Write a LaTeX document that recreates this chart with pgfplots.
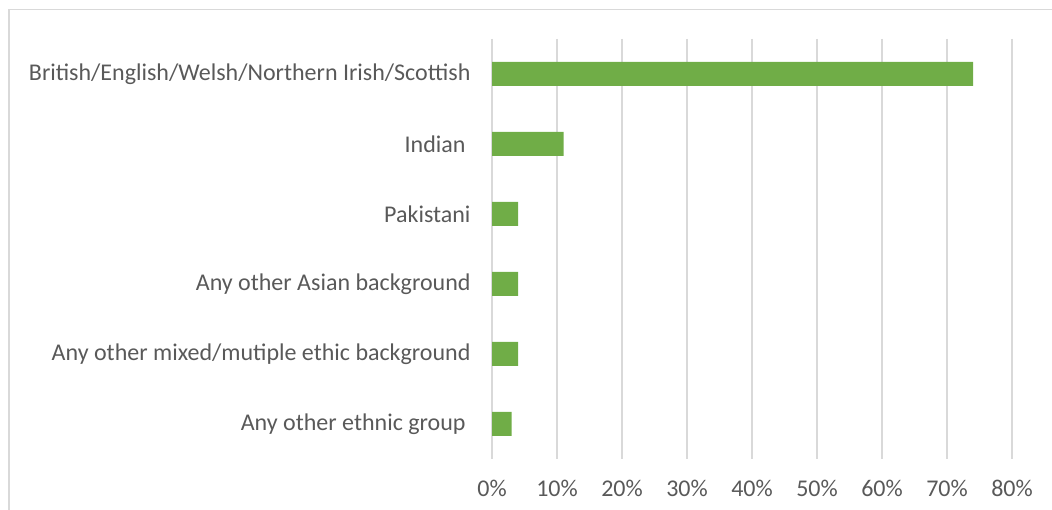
\documentclass[border=0pt]{standalone}
\usepackage{pgfplots}
\pgfplotsset{compat=1.18}
\usepackage{fontspec}
\setmainfont{Carlito}
\definecolor{bargreen}{HTML}{70AD47}
\definecolor{gridgray}{HTML}{D9D9D9}
\definecolor{txtgray}{HTML}{595959}
\begin{document}
\begin{tikzpicture}[x=1bp,y=1bp]
\useasboundingbox (0,0) rectangle (1052,510);
\draw[gridgray, line width=1.5bp] (9,0) -- (9,500.5) -- (1052,500.5);
\begin{axis}[
  at={(492bp,51bp)}, anchor=south west,
  scale only axis,
  width=520bp, height=420bp,
  xbar, bar width=24bp, bar shift=0pt,
  xmin=0, xmax=80,
  ymin=-0.5, ymax=5.5,
  y dir=reverse,
  xtick={0,10,...,80},
  xticklabel={\pgfmathprintnumber{\tick}\%},
  ytick={0,1,2,3,4,5},
  yticklabels={British/English/Welsh/Northern Irish/Scottish, Indian\kern5bp, Pakistani, Any other Asian background, Any other mixed/mutiple ethic background, Any other ethnic group\kern5bp},
  xmajorgrids, major grid style={gridgray, line width=1.3bp},
  axis line style={draw=none},
  major tick length=0pt,
  tick label style={font=\fontsize{24bp}{28bp}\selectfont, text=txtgray},
  /pgf/number format/assume math mode=true,
  yticklabel style={xshift=-18bp},
  xticklabel style={yshift=-18bp},
]
\addplot[fill=bargreen, draw=none] coordinates {
  (74,0) (11,1) (4,2) (4,3) (4,4) (3,5)
};
\end{axis}
\end{tikzpicture}
\end{document}
